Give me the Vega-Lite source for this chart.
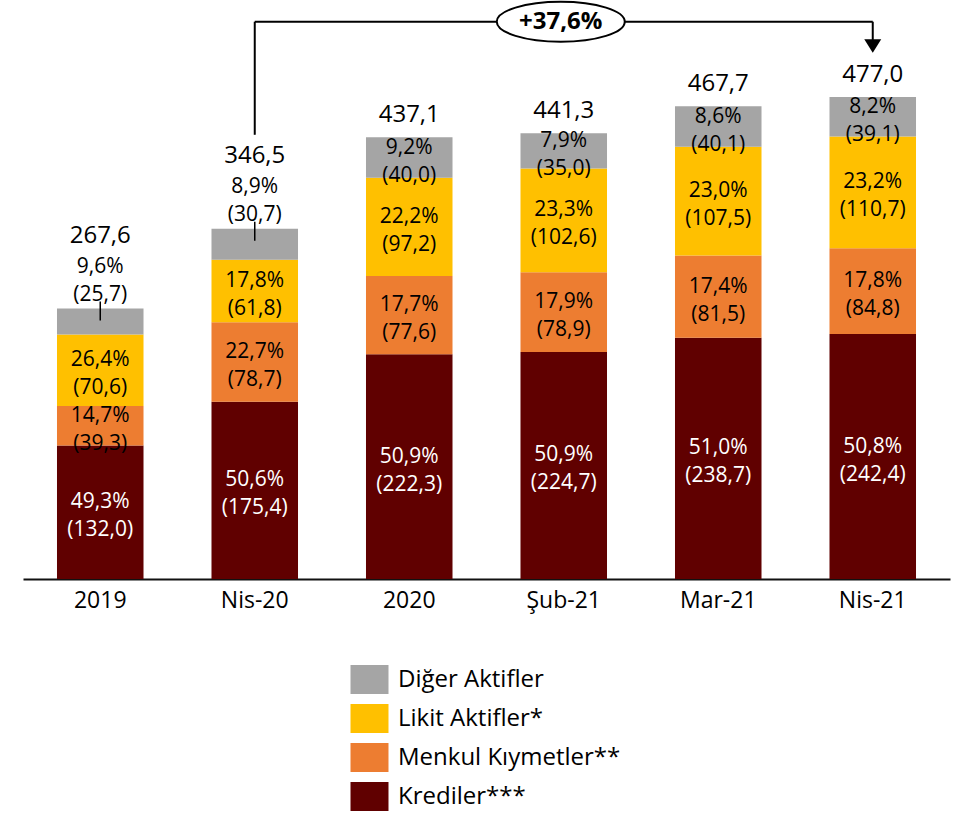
{
  "$schema": "https://vega.github.io/schema/vega-lite/v6.json",
  "width": 927,
  "height": 579,
  "autosize": {"type": "none"},
  "padding": {"left": 23, "top": 0, "right": 4, "bottom": 236},
  "background": "white",
  "config": {
    "view": {"stroke": null},
    "font": "Open Sans, DejaVu Sans, sans-serif"
  },
  "datasets": {
    "seg": [
      {"cat": "2019", "s": "Krediler***", "k": 1, "v": 132.0, "p": 49.3},
      {"cat": "2019", "s": "Menkul Kıymetler**", "k": 2, "v": 39.3, "p": 14.7},
      {"cat": "2019", "s": "Likit Aktifler*", "k": 3, "v": 70.6, "p": 26.4},
      {"cat": "2019", "s": "Diğer Aktifler", "k": 4, "v": 25.7, "p": 9.6},
      {"cat": "Nis-20", "s": "Krediler***", "k": 1, "v": 175.4, "p": 50.6},
      {"cat": "Nis-20", "s": "Menkul Kıymetler**", "k": 2, "v": 78.7, "p": 22.7},
      {"cat": "Nis-20", "s": "Likit Aktifler*", "k": 3, "v": 61.8, "p": 17.8},
      {"cat": "Nis-20", "s": "Diğer Aktifler", "k": 4, "v": 30.7, "p": 8.9},
      {"cat": "2020", "s": "Krediler***", "k": 1, "v": 222.3, "p": 50.9},
      {"cat": "2020", "s": "Menkul Kıymetler**", "k": 2, "v": 77.6, "p": 17.7},
      {"cat": "2020", "s": "Likit Aktifler*", "k": 3, "v": 97.2, "p": 22.2},
      {"cat": "2020", "s": "Diğer Aktifler", "k": 4, "v": 40.0, "p": 9.2},
      {"cat": "Şub-21", "s": "Krediler***", "k": 1, "v": 224.7, "p": 50.9},
      {"cat": "Şub-21", "s": "Menkul Kıymetler**", "k": 2, "v": 78.9, "p": 17.9},
      {"cat": "Şub-21", "s": "Likit Aktifler*", "k": 3, "v": 102.6, "p": 23.3},
      {"cat": "Şub-21", "s": "Diğer Aktifler", "k": 4, "v": 35.0, "p": 7.9},
      {"cat": "Mar-21", "s": "Krediler***", "k": 1, "v": 238.7, "p": 51.0},
      {"cat": "Mar-21", "s": "Menkul Kıymetler**", "k": 2, "v": 81.5, "p": 17.4},
      {"cat": "Mar-21", "s": "Likit Aktifler*", "k": 3, "v": 107.5, "p": 23.0},
      {"cat": "Mar-21", "s": "Diğer Aktifler", "k": 4, "v": 40.1, "p": 8.6},
      {"cat": "Nis-21", "s": "Krediler***", "k": 1, "v": 242.4, "p": 50.8},
      {"cat": "Nis-21", "s": "Menkul Kıymetler**", "k": 2, "v": 84.8, "p": 17.8},
      {"cat": "Nis-21", "s": "Likit Aktifler*", "k": 3, "v": 110.7, "p": 23.2},
      {"cat": "Nis-21", "s": "Diğer Aktifler", "k": 4, "v": 39.1, "p": 8.2}
    ],
    "tot": [
      {"cat": "2019", "total": 267.6},
      {"cat": "Nis-20", "total": 346.5},
      {"cat": "2020", "total": 437.1},
      {"cat": "Şub-21", "total": 441.3},
      {"cat": "Mar-21", "total": 467.7},
      {"cat": "Nis-21", "total": 477.0}
    ],
    "ann": [{"label": "+37,6%"}]
  },
  "encoding": {
    "x": {
      "field": "cat",
      "type": "nominal",
      "sort": ["2019", "Nis-20", "2020", "Şub-21", "Mar-21", "Nis-21"],
      "scale": {"domain": ["2019", "Nis-20", "2020", "Şub-21", "Mar-21", "Nis-21"], "paddingInner": 0.44, "paddingOuter": 0.22},
      "axis": {
        "title": null,
        "labelAngle": 0,
        "labelFontSize": 23,
        "labelColor": "black",
        "labelPadding": 10,
        "ticks": false,
        "domainColor": "#111111",
        "domainWidth": 2,
        "grid": false
      }
    }
  },
  "layer": [
    {
      "data": {"name": "seg"},
      "transform": [
        {"stack": "v", "groupby": ["cat"], "sort": [{"field": "k", "order": "ascending"}], "as": ["y0", "y1"]}
      ],
      "mark": {"type": "bar"},
      "encoding": {
        "y": {"field": "y0", "type": "quantitative", "scale": {"domain": [0, 573], "nice": false, "zero": true}, "axis": null},
        "y2": {"field": "y1"},
        "color": {
          "field": "s",
          "type": "nominal",
          "scale": {
            "domain": ["Diğer Aktifler", "Likit Aktifler*", "Menkul Kıymetler**", "Krediler***"],
            "range": ["#A5A5A5", "#FFC000", "#ED7D31", "#600000"]
          },
          "legend": {
            "title": null,
            "orient": "none",
            "legendX": 332,
            "legendY": 665,
            "direction": "vertical",
            "padding": 0,
            "symbolType": "M-1.31,-1L1.31,-1L1.31,1L-1.31,1Z",
            "symbolSize": 841,
            "symbolStrokeWidth": 0,
            "symbolOpacity": 1,
            "labelFontSize": 24,
            "labelColor": "black",
            "labelOffset": 14,
            "rowPadding": 10,
            "labelLimit": 400
          }
        }
      }
    },
    {
      "data": {"name": "seg"},
      "transform": [
        {"stack": "v", "groupby": ["cat"], "sort": [{"field": "k", "order": "ascending"}], "as": ["y0", "y1"]},
        {"filter": "!(datum.s === 'Diğer Aktifler' && (datum.cat === '2019' || datum.cat === 'Nis-20'))"},
        {"calculate": "(datum.y0 + datum.y1) / 2", "as": "mid"},
        {"calculate": "[replace(format(datum.p, '.1f'), '.', ',') + '%', '(' + replace(format(datum.v, '.1f'), '.', ',') + ')']", "as": "lab"}
      ],
      "mark": {"type": "text", "fontSize": 21, "lineHeight": 28, "baseline": "middle", "align": "center", "dy": -10},
      "encoding": {
        "y": {"field": "mid", "type": "quantitative"},
        "text": {"field": "lab"},
        "color": {"condition": {"test": "datum.s === 'Krediler***'", "value": "white"}, "value": "black"}
      }
    },
    {
      "data": {"name": "seg"},
      "transform": [
        {"stack": "v", "groupby": ["cat"], "sort": [{"field": "k", "order": "ascending"}], "as": ["y0", "y1"]},
        {"filter": "datum.s === 'Diğer Aktifler' && (datum.cat === '2019' || datum.cat === 'Nis-20')"},
        {"calculate": "[replace(format(datum.p, '.1f'), '.', ',') + '%', '(' + replace(format(datum.v, '.1f'), '.', ',') + ')']", "as": "lab"}
      ],
      "mark": {"type": "text", "fontSize": 21, "lineHeight": 28, "baseline": "middle", "align": "center", "dy": -42, "color": "black"},
      "encoding": {
        "y": {"field": "y1", "type": "quantitative"},
        "text": {"field": "lab"}
      }
    },
    {
      "data": {"name": "seg"},
      "transform": [
        {"stack": "v", "groupby": ["cat"], "sort": [{"field": "k", "order": "ascending"}], "as": ["y0", "y1"]},
        {"filter": "datum.s === 'Diğer Aktifler' && (datum.cat === '2019' || datum.cat === 'Nis-20')"}
      ],
      "mark": {"type": "rule", "color": "black", "strokeWidth": 1.5, "yOffset": -7, "y2Offset": 12},
      "encoding": {
        "y": {"field": "y1", "type": "quantitative"},
        "y2": {"field": "y1"}
      }
    },
    {
      "data": {"name": "tot"},
      "transform": [
        {"filter": "datum.cat === '2019' || datum.cat === 'Nis-20'"},
        {"calculate": "replace(format(datum.total, '.1f'), '.', ',')", "as": "lab"}
      ],
      "mark": {"type": "text", "fontSize": 24, "baseline": "middle", "align": "center", "dy": -73, "color": "black"},
      "encoding": {
        "y": {"field": "total", "type": "quantitative"},
        "text": {"field": "lab"}
      }
    },
    {
      "data": {"name": "tot"},
      "transform": [
        {"filter": "!(datum.cat === '2019' || datum.cat === 'Nis-20')"},
        {"calculate": "replace(format(datum.total, '.1f'), '.', ',')", "as": "lab"}
      ],
      "mark": {"type": "text", "fontSize": 24, "baseline": "middle", "align": "center", "dy": -22, "color": "black"},
      "encoding": {
        "y": {"field": "total", "type": "quantitative"},
        "text": {"field": "lab"}
      }
    },
    {
      "data": {"name": "ann"},
      "mark": {"type": "rule", "color": "black", "strokeWidth": 2},
      "encoding": {
        "x": {"datum": "Nis-20"},
        "y": {"datum": 439.6, "type": "quantitative"},
        "y2": {"datum": 551.5}
      }
    },
    {
      "data": {"name": "ann"},
      "mark": {"type": "rule", "color": "black", "strokeWidth": 2},
      "encoding": {
        "x": {"datum": "Nis-20"},
        "x2": {"datum": "Nis-21"},
        "y": {"datum": 551.5, "type": "quantitative"}
      }
    },
    {
      "data": {"name": "ann"},
      "mark": {"type": "rule", "color": "black", "strokeWidth": 2},
      "encoding": {
        "x": {"datum": "Nis-21"},
        "y": {"datum": 533.5, "type": "quantitative"},
        "y2": {"datum": 551.5}
      }
    },
    {
      "data": {"name": "ann"},
      "mark": {"type": "point", "shape": "M-1,-0.8L1,-0.8L0,0.8Z", "size": 289, "filled": true, "color": "black", "opacity": 1},
      "encoding": {
        "x": {"datum": "Nis-21"},
        "y": {"datum": 527.5, "type": "quantitative"}
      }
    },
    {
      "data": {"name": "ann"},
      "mark": {
        "type": "point",
        "shape": "M-3.2,0C-3.2,-0.5523,-1.767,-1,0,-1C1.767,-1,3.2,-0.5523,3.2,0C3.2,0.5523,1.767,1,0,1C-1.767,1,-3.2,0.5523,-3.2,0Z",
        "size": 1600,
        "filled": true,
        "fill": "white",
        "stroke": "black",
        "strokeWidth": 2,
        "opacity": 1,
        "xOffset": -3
      },
      "encoding": {
        "x": {"datum": "Şub-21"},
        "y": {"datum": 551.5, "type": "quantitative"}
      }
    },
    {
      "data": {"name": "ann"},
      "mark": {"type": "text", "fontSize": 24, "fontWeight": "bold", "baseline": "middle", "align": "center", "color": "black", "xOffset": -3},
      "encoding": {
        "x": {"datum": "Şub-21"},
        "y": {"datum": 551.5, "type": "quantitative"},
        "text": {"field": "label"}
      }
    }
  ]
}
